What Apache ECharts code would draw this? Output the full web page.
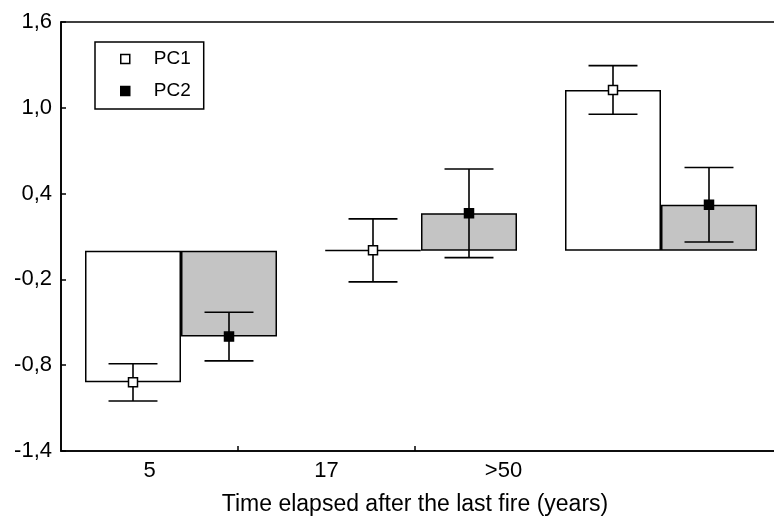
<!DOCTYPE html>
<html>
<head>
<meta charset="utf-8">
<script src="https://cdn.jsdelivr.net/npm/echarts@6/dist/echarts.min.js"></script>
<style>
html,body{margin:0;padding:0;background:#fff;}
#chart{width:774px;height:525px;}
</style>
</head>
<body>
<div id="chart"></div>
<script>
const categories = ['5', '17', '>50'];
const pc1Mean = [-0.92, 0.003, 1.125];
const pc1Err = [0.13, 0.22, 0.17];
const pc2Mean = [-0.60, 0.262, 0.322];
const pc2Err = [0.17, 0.31, 0.26];
const yTicks = { min: -1.4, max: 1.6, step: 0.6 };
const xTitle = 'Time elapsed after the last fire (years)';

const FONT = 'Liberation Sans, Arial, sans-serif';
const chart = echarts.init(document.getElementById('chart'));

// label axis: the three labels plus two empty slots running past the right edge
const labelSlots = categories.concat(['', '']);

function errRenderer(sign, filled) {
  return function (params, api) {
    const i = api.value(0), m = api.value(1), e = api.value(2);
    const band = api.size([1, 0])[0];
    const c = api.coord([i, m]);
    const cx = c[0] + sign * band * 0.2;
    const yHi = api.coord([i, m + e])[1];
    const yLo = api.coord([i, m - e])[1];
    const half = band * 0.102;
    const ls = { stroke: '#000', lineWidth: 1.6 };
    return {
      type: 'group',
      children: [
        { type: 'line', shape: { x1: cx, y1: yHi, x2: cx, y2: yLo }, style: ls },
        { type: 'line', shape: { x1: cx - half, y1: yHi, x2: cx + half, y2: yHi }, style: ls },
        { type: 'line', shape: { x1: cx - half, y1: yLo, x2: cx + half, y2: yLo }, style: ls },
        { type: 'rect', shape: { x: cx - 4.5, y: c[1] - 4.5, width: 9, height: 9 },
          style: { fill: filled ? '#000' : '#fff', stroke: '#000', lineWidth: 1.5 } }
      ]
    };
  };
}

const option = {
  backgroundColor: '#fff',
  animation: false,
  textStyle: { fontFamily: FONT, color: '#000' },
  grid: [
    { left: 61, top: 22, width: 885, height: 429, show: false, outerBoundsMode: 'none', containLabel: false },
    { left: 61, top: 22, width: 720, height: 429, show: true, borderColor: '#000', borderWidth: 1.6,
      backgroundColor: 'transparent', outerBoundsMode: 'none', containLabel: false }
  ],
  legend: {
    left: 95, top: 42,
    orient: 'vertical',
    padding: [7, 13, 8, 25],
    itemGap: 12,
    itemWidth: 9, itemHeight: 9,
    borderColor: '#000', borderWidth: 1.5,
    backgroundColor: '#fff',
    selectedMode: false,
    textStyle: { fontSize: 19, color: '#000', fontFamily: FONT, lineHeight: 20, padding: [0, 0, 0, 19] },
    data: [
      { name: 'PC1', icon: 'rect', itemStyle: { color: '#fff', borderColor: '#000', borderWidth: 1.5 } },
      { name: 'PC2', icon: 'rect', itemStyle: { color: '#000', borderColor: '#000', borderWidth: 1.5 } }
    ]
  },
  xAxis: [
    {
      type: 'category', gridIndex: 0, data: labelSlots, boundaryGap: true, position: 'bottom',
      axisLine: { show: false, onZero: false },
      axisTick: { show: true, inside: true, length: 5, lineStyle: { color: '#000', width: 1.5 },
        interval: function (idx) { return idx === 1 || idx === 2; } },
      axisLabel: { fontSize: 22, color: '#000', margin: 9, fontFamily: FONT, interval: 0 }
    },
    {
      type: 'category', gridIndex: 1, data: categories, boundaryGap: true, position: 'bottom',
      axisLine: { show: true, onZero: false, lineStyle: { color: '#000', width: 1.6 } },
      axisTick: { show: false },
      axisLabel: { show: false },
      name: xTitle, nameLocation: 'middle', nameGap: 42,
      nameTextStyle: { fontSize: 23, color: '#000', fontFamily: FONT, padding: [0, 12, 0, 0] }
    }
  ],
  yAxis: [
    { type: 'value', gridIndex: 0, min: yTicks.min, max: yTicks.max, interval: yTicks.step, show: false },
    {
      type: 'value', gridIndex: 1, min: yTicks.min, max: yTicks.max, interval: yTicks.step,
      axisLine: { show: true, lineStyle: { color: '#000', width: 1.6 } },
      axisTick: { show: true, inside: true, length: 5, lineStyle: { color: '#000', width: 1.5 } },
      splitLine: { show: false },
      axisLabel: { fontSize: 22, color: '#000', margin: 9, fontFamily: FONT,
        formatter: function (v) { return v.toFixed(1).replace('.', ','); } }
    }
  ],
  series: [
    {
      name: 'PC1 mean', type: 'bar', xAxisIndex: 1, yAxisIndex: 1,
      data: pc1Mean, barGap: '0%', barCategoryGap: '20%',
      itemStyle: { color: '#fff', borderColor: '#000', borderWidth: 1.5 }
    },
    {
      name: 'PC2 mean', type: 'bar', xAxisIndex: 1, yAxisIndex: 1,
      data: pc2Mean, barGap: '0%', barCategoryGap: '20%',
      itemStyle: { color: '#c4c4c4', borderColor: '#000', borderWidth: 1.5 }
    },
    {
      name: 'PC1', type: 'custom', xAxisIndex: 1, yAxisIndex: 1, z: 5,
      renderItem: errRenderer(-1, false),
      itemStyle: { color: '#fff', borderColor: '#000' },
      data: categories.map((c, i) => [i, pc1Mean[i], pc1Err[i]])
    },
    {
      name: 'PC2', type: 'custom', xAxisIndex: 1, yAxisIndex: 1, z: 5,
      renderItem: errRenderer(1, true),
      itemStyle: { color: '#000', borderColor: '#000' },
      data: categories.map((c, i) => [i, pc2Mean[i], pc2Err[i]])
    }
  ]
};
chart.setOption(option);
</script>
</body>
</html>
